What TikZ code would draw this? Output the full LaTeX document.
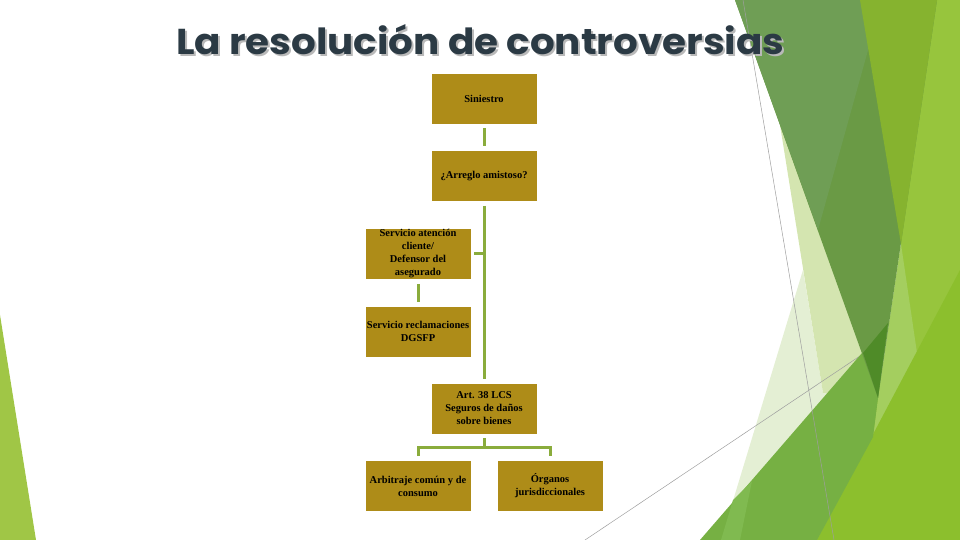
\documentclass[tikz,border=0pt]{standalone}
\usepackage{fontspec}
\newfontfamily\titlefont{Poppins}
\newfontfamily\boxfont{Liberation Serif}
\definecolor{cA}{RGB}{111,158,85}
\definecolor{cB}{RGB}{106,154,69}
\definecolor{cC}{RGB}{79,139,40}
\definecolor{cD}{RGB}{134,179,47}
\definecolor{cE}{RGB}{151,197,61}
\definecolor{cF}{RGB}{140,191,45}
\definecolor{cG}{RGB}{118,176,67}
\definecolor{cH}{RGB}{212,229,176}
\definecolor{cI}{RGB}{228,239,212}
\definecolor{cJ}{RGB}{164,206,95}
\definecolor{cK}{RGB}{128,186,80}
\definecolor{cL}{RGB}{160,198,70}
\definecolor{boxc}{RGB}{174,140,24}
\definecolor{connc}{RGB}{138,172,60}
\definecolor{titlec}{RGB}{43,58,68}
\definecolor{shadowc}{RGB}{185,185,185}
\begin{document}
\begin{tikzpicture}[x=1pt,y=1pt,
  boxnode/.style={rectangle, fill=boxc, draw=white, line width=0.6pt,
    minimum width=106pt, minimum height=51pt, inner sep=0pt, align=center,
    font=\boxfont\bfseries\fontsize{10.5}{13}\selectfont},
  conn/.style={draw=connc, line width=3pt, line join=miter},
  thinline/.style={draw=black!38, line width=0.5pt}]
\useasboundingbox (0,0) rectangle (960,540);
% background facets
\begin{scope}
\clip (0,0) rectangle (960,540);
\fill[cI] (803,270) -- (715,-20) -- (880,-20) -- (880,147) -- (823,147) -- cycle;
\fill[cH] (780,415) -- (823,147) -- (880,147) -- (880,415) -- cycle;
\draw[thinline] (585,0) -- (863,186);
\fill[cE] (860,540) -- (960,540) -- (960,0) -- (800,0) -- (878,142) -- (901,296) -- cycle;
\fill[cJ] (901,296) -- (917,187) -- (873,103) -- (878,142) -- cycle;
\fill[cF] (817,0) -- (960,270) -- (960,0) -- cycle;
\fill[cG] (700,0) -- (888,217) -- (878,142) -- (873,103) -- (817,0) -- cycle;
\fill[cK] (721,0) -- (733,40) -- (752,59) -- (740,0) -- cycle;
\fill[cB] (735,540) -- (937,540) -- (878,142) -- cycle;
\fill[cA] (735,540) -- (882,540) -- (818,310) -- cycle;
\fill[cD] (860,540) -- (937,540) -- (901,296) -- cycle;
\fill[cC] (863,187) -- (888,217) -- (878,142) -- cycle;
\draw[thinline] (743,540) -- (834,0);
\fill[cL] (0,225) -- (36,0) -- (0,0) -- cycle;
\end{scope}
% title
\node[anchor=base west, inner sep=0pt, text=shadowc] (tshadow) at (178,483)
  {\resizebox{608pt}{30pt}{\titlefont\bfseries La resolución de controversias}};
\node[anchor=base west, inner sep=0pt, text=titlec] (title) at (176,485)
  {\resizebox{608pt}{30pt}{\titlefont\bfseries La resolución de controversias}};
% boxes
\node[boxnode] (sin) at (484,441.5) {Siniestro};
\node[boxnode] (arr) at (484,364) {¿Arreglo amistoso?};
\node[boxnode] (sac) at (418,286) {Servicio atención\\cliente/\\Defensor del\\asegurado};
\node[boxnode] (rec) at (418,208.5) {Servicio reclamaciones\\DGSFP};
\node[boxnode] (art) at (484,131.5) {Art. 38 LCS\\Seguros de daños\\sobre bienes};
\node[boxnode] (arb) at (418,54) {Arbitraje común y de\\consumo};
\node[boxnode] (org) at (550,54) {Órganos\\jurisdiccionales};
% connectors
\draw[conn] ([yshift=-4pt]sin.south) -- ([yshift=4pt]arr.north);
\draw[conn] ([yshift=-4pt]arr.south) -- ([yshift=4pt]art.north);
\draw[conn] ([xshift=3pt]sac.east) -- (sac.east -| arr.south);
\draw[conn] ([yshift=-4pt]sac.south) -- ([yshift=4pt]rec.north);
\draw[conn] ([yshift=-4pt]art.south) -- ([yshift=-13pt]art.south);
\draw[conn] ([yshift=4pt]arb.north) |- ([yshift=-13pt]art.south) -| ([yshift=4pt]org.north);
\end{tikzpicture}
\end{document}
